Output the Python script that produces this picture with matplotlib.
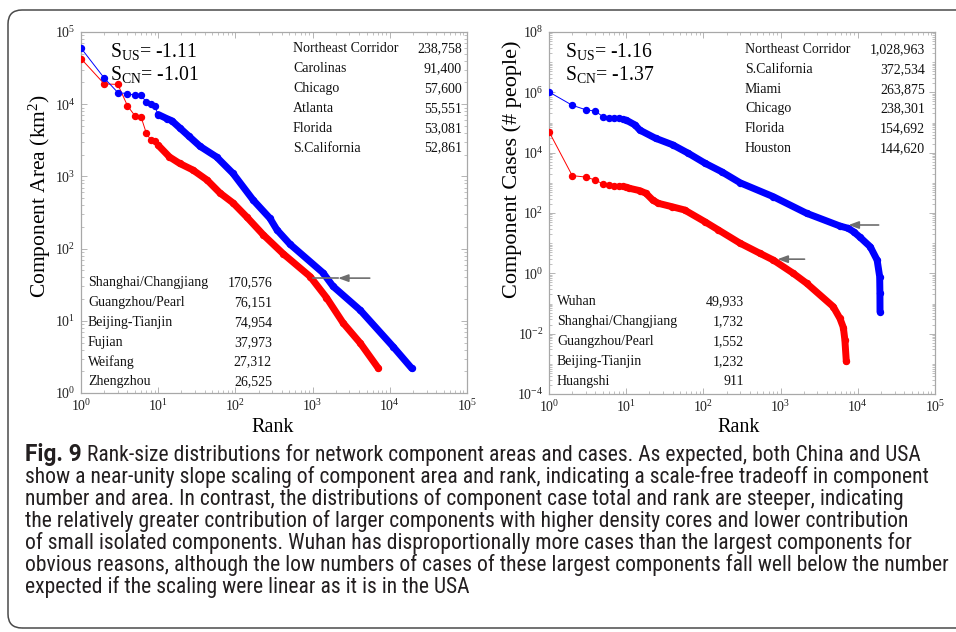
import numpy as np
import matplotlib
matplotlib.use('Agg')
import matplotlib.pyplot as plt
from matplotlib.patches import FancyBboxPatch
from matplotlib.transforms import IdentityTransform
from matplotlib.ticker import LogLocator, NullFormatter, FixedLocator
from matplotlib import font_manager

# ---------------- data ----------------
# Left panel: component area (km^2) vs rank
area_us_rank = [1, 2, 3, 4, 5, 6, 7, 8, 9, 10, 13, 15, 19, 25, 35, 57, 93, 170, 280, 345, 510,
                1370, 1840, 4150, 11000, 19200]
area_us = [60000, 23000, 14500, 14000, 13300, 13300, 10700, 10200, 9300, 7200, 6300, 5900, 4700,
           3600, 2600, 1860, 1100, 470, 263, 182, 115, 46, 30, 14, 4.4, 2.2]
area_cn_rank = [1, 2, 3, 4, 5, 6, 7, 8, 9, 10, 14, 19, 28, 43, 63, 93, 140, 230, 415, 930, 1510,
                2490, 4150, 7100]
area_cn = [42800, 19100, 18800, 9500, 6900, 6650, 4000, 3200, 3100, 2700, 1860, 1510, 1230, 890,
           590, 430, 275, 155, 85, 41, 21, 9.3, 4.9, 2.2]

# Right panel: component cases (# people) vs rank
cases_us_rank = [1, 2, 3, 4, 5, 6, 7, 8, 9, 10, 13, 15, 24, 40, 64, 105, 172, 300, 805, 2170,
                 5870, 7530, 8800, 10600, 14500, 17800, 19200, 19350, 19400]
cases_us = [1028963, 372534, 263875, 238301, 154692, 144620, 138000, 136000, 132000, 120000,
            83000, 56000, 30000, 18200, 9500, 4470, 2340, 1000, 347, 98, 37, 31, 24, 16, 7.6,
            2.75, 0.78, 0.22, 0.054]
cases_cn_rank = [1, 2, 3, 4, 5, 6, 7, 8, 9, 10, 11, 15, 18, 22, 26, 39, 57, 105, 156, 298, 540,
                 805, 1460, 2170, 4800, 5870, 6500, 6800, 7100]
cases_cn = [49933, 1732, 1552, 1232, 911, 830, 810, 810, 780, 720, 660, 550, 450, 270, 210, 162,
            126, 51, 27.5, 10, 4.6, 2.75, 1.0, 0.47, 0.079, 0.032, 0.016, 0.0062, 0.0012]

# Tables of largest components
area_us_names = ["Northeast Corridor", "Carolinas", "Chicago", "Atlanta", "Florida", "S.California"]
area_us_vals = ["238,758", "91,400", "57,600", "55,551", "53,081", "52,861"]
area_cn_names = ["Shanghai/Changjiang", "Guangzhou/Pearl", "Beijing-Tianjin", "Fujian", "Weifang", "Zhengzhou"]
area_cn_vals = ["170,576", "76,151", "74,954", "37,973", "27,312", "26,525"]
cases_us_names = ["Northeast Corridor", "S.California", "Miami", "Chicago", "Florida", "Houston"]
cases_us_vals = ["1,028,963", "372,534", "263,875", "238,301", "154,692", "144,620"]
cases_cn_names = ["Wuhan", "Shanghai/Changjiang", "Guangzhou/Pearl", "Beijing-Tianjin", "Huangshi"]
cases_cn_vals = ["49,933", "1,732", "1,552", "1,232", "911"]

slopes_area = ("-1.11", "-1.01")
slopes_cases = ("-1.16", "-1.37")

# arrows: (x_start, x_tip, x_end_of_line, y) in data units
arrow_area = (10 ** 3.74, 10 ** 3.33, 10 ** 3.0, 39)
arrow_cases_us = (10 ** 4.27, 10 ** 3.88, 10 ** 3.88, 40)
arrow_cases_cn = (10 ** 3.31, 10 ** 2.96, 10 ** 2.96, 2.95)

caption_bold = "Fig. 9"
caption_lines = [
    "Rank-size distributions for network component areas and cases. As expected, both China and USA",
    "show a near-unity slope scaling of component area and rank, indicating a scale-free tradeoff in component",
    "number and area. In contrast, the distributions of component case total and rank are steeper, indicating",
    "the relatively greater contribution of larger components with higher density cores and lower contribution",
    "of small isolated components. Wuhan has disproportionally more cases than the largest components for",
    "obvious reasons, although the low numbers of cases of these largest components fall well below the number",
    "expected if the scaling were linear as it is in the USA",
]
caption_line_ends = [915, 944, 900, 944, 905, 951, 462]   # right ends in the reference (px)

# ---------------- style ----------------
SERIF = 'Liberation Serif'
plt.rcParams['font.family'] = [SERIF, 'DejaVu Serif']
plt.rcParams['mathtext.fontset'] = 'custom'
plt.rcParams['mathtext.rm'] = SERIF
plt.rcParams['mathtext.it'] = SERIF + ':italic'
plt.rcParams['mathtext.bf'] = SERIF + ':bold'
plt.rcParams['axes.unicode_minus'] = False

STRETCH_NUM = {'ultra-condensed': 100, 'extra-condensed': 200, 'condensed': 300,
               'semi-condensed': 400, 'normal': 500, 'semi-expanded': 600, 'expanded': 700,
               'extra-expanded': 800, 'ultra-expanded': 900}
WEIGHT_NUM = {'normal': 400, 'regular': 400, 'book': 400, 'medium': 500, 'bold': 700,
              'semibold': 600, 'demibold': 600}


def _num(v, table, default):
    if isinstance(v, (int, float)):
        return int(v)
    return table.get(str(v).lower(), default)


def pick_caption_font():
    fams = ['liberation sans narrow', 'open sans', 'noto sans', 'roboto', 'lato', 'inter',
            'dejavu sans', 'liberation sans']
    cands = []
    for f in font_manager.fontManager.ttflist:
        low = f.name.lower()
        if any(k in low for k in ('serif', 'mono', 'cjk', 'math', 'display', 'symbol')):
            continue
        if f.style != 'normal':
            continue
        st = _num(f.stretch, STRETCH_NUM, 500)
        squeezed = low.replace(' ', '').replace('-', '')
        if 'narrow' in low:
            st = min(st, 400)
        if 'semicondensed' in squeezed:
            st = 400
        elif 'extracondensed' in squeezed:
            st = 200
        elif 'condensed' in low:
            st = min(st, 300)
        if st not in (300, 400):
            continue
        base = None
        for i, fam in enumerate(fams):
            if low.startswith(fam):
                base = i
                break
        if base is None:
            continue
        if _num(f.weight, WEIGHT_NUM, 400) != 400:
            continue
        cands.append((base, abs(st - 400), f))
    if cands:
        cands.sort(key=lambda c: (c[0], c[1]))
        return font_manager.FontProperties(fname=cands[0][2].fname)
    return font_manager.FontProperties(family='DejaVu Sans')


CAP_FP = pick_caption_font()
CAP_BOLD_FP = font_manager.FontProperties(family=['Roboto', 'Open Sans', 'DejaVu Sans'], weight='bold')

W, H = 956, 632
fig = plt.figure(figsize=(W / 100, H / 100), dpi=100)
fig.patch.set_facecolor('white')


def fx(px):
    return px / W


def fy(py):
    return 1 - py / H


axL = fig.add_axes([fx(81), fy(393), (467 - 81) / W, (393 - 32) / H])
axR = fig.add_axes([fx(549), fy(394), (935 - 549) / W, (394 - 32) / H])

BLUE = '#0000ff'
RED = '#ff0000'
GRAY_SP = '#a8a8a8'


def style(ax, ylim, ymajor):
    ax.set_xscale('log')
    ax.set_yscale('log')
    ax.set_xlim(1, 1e5)
    ax.set_ylim(*ylim)
    ax.xaxis.set_major_locator(FixedLocator([10.0 ** k for k in range(0, 6)]))
    ax.yaxis.set_major_locator(FixedLocator(ymajor))
    ax.xaxis.set_minor_locator(LogLocator(base=10, subs=np.arange(1, 10), numticks=200))
    ax.yaxis.set_minor_locator(LogLocator(base=10, subs=np.arange(1, 10), numticks=200))
    ax.xaxis.set_minor_formatter(NullFormatter())
    ax.yaxis.set_minor_formatter(NullFormatter())
    ax.tick_params(which='both', direction='in', top=True, right=True, colors=GRAY_SP,
                   labelcolor='#222222', labelsize=10)
    ax.tick_params(which='major', length=4.5, width=0.6, pad=4)
    ax.tick_params(which='minor', length=2.2, width=0.5)
    for s in ax.spines.values():
        s.set_color(GRAY_SP)
        s.set_linewidth(0.9)


def draw(ax, ranks, vals, color, band_from):
    r = np.asarray(ranks, float)
    v = np.asarray(vals, float)
    ax.plot(r, v, '-', color=color, lw=0.7, marker='o', ms=4.3, mec=color, mfc=color, zorder=3)
    m = r >= band_from
    ax.plot(r[m], v[m], '-', color=color, lw=5.0, solid_capstyle='round',
            solid_joinstyle='round', zorder=3)


def arrow(ax, spec):
    x0, xtip, xend, y = spec
    ax.annotate('', xy=(xtip, y), xytext=(x0, y),
                arrowprops=dict(arrowstyle='-|>,head_length=0.6,head_width=0.22',
                                color='#6e6e6e', lw=1.2, shrinkA=0, shrinkB=0), zorder=5)
    if xend < xtip:
        ax.plot([xtip, xend], [y, y], color='#6e6e6e', lw=1.2, zorder=5)


style(axL, (1, 1e5), [10.0 ** k for k in range(0, 6)])
style(axR, (1e-4, 1e8), [10.0 ** k for k in range(-4, 9, 2)])

draw(axL, area_cn_rank, area_cn, RED, 10)
draw(axL, area_us_rank, area_us, BLUE, 10)
draw(axR, cases_cn_rank, cases_cn, RED, 10)
draw(axR, cases_us_rank, cases_us, BLUE, 10)

arrow(axL, arrow_area)
arrow(axR, arrow_cases_us)
arrow(axR, arrow_cases_cn)

axL.set_xlabel('Rank', fontsize=14.5)
axL.set_ylabel('Component Area (km$^2$)', fontsize=15.5)
axL.xaxis.set_label_coords(0.497, -0.068)
axL.yaxis.set_label_coords(-0.072, 0.546)
axR.set_xlabel('Rank', fontsize=14.5)
axR.set_ylabel('Component Cases (# people)', fontsize=16)
axR.xaxis.set_label_coords(0.49, -0.066)
axR.yaxis.set_label_coords(-0.071, 0.62)

# slope annotations
for x0, sl in ((110, slopes_area), (565, slopes_cases)):
    fig.text(fx(x0), fy(57), r'S$_{\mathrm{US}}$= ' + sl[0], fontsize=14.2, va='baseline', ha='left')
    fig.text(fx(x0), fy(80), r'S$_{\mathrm{CN}}$= ' + sl[1], fontsize=14.2, va='baseline', ha='left')


def table(names, vals, xname, xval, ybase, step):
    for i, (n, v) in enumerate(zip(names, vals)):
        y = ybase + step * i
        fig.text(fx(xname), fy(y), n, fontsize=10, va='baseline', ha='left', color='#111111')
        fig.text(fx(xval), fy(y), v, fontsize=10, va='baseline', ha='right', color='#111111')


table(area_us_names, area_us_vals, 293, 462, 52.5, 19.8)
table(area_cn_names, area_cn_vals, 88, 272, 286, 19.9)
table(cases_us_names, cases_us_vals, 745, 925, 53.3, 19.7)
table(cases_cn_names, cases_cn_vals, 557, 744, 305, 20.0)

# ---------------- caption ----------------
X0 = 25
fig.canvas.draw()
renderer = fig.canvas.get_renderer()


def text_width(s, fp, size):
    t = fig.text(0, 0, s, fontproperties=fp, fontsize=size)
    w = t.get_window_extent(renderer).width
    t.remove()
    return w


ratios = []
for line, end in zip(caption_lines[1:], caption_line_ends[1:]):
    ratios.append((end - X0) / text_width(line, CAP_FP, 10))
cap_size = 10 * float(np.median(ratios))
worst = max(text_width(l, CAP_FP, cap_size) for l in caption_lines[1:])
if X0 + worst > 952:
    cap_size *= (952 - X0) / worst

bold_size = 10 * (82 - X0) / text_width(caption_bold, CAP_BOLD_FP, 10)

base0 = 461.5
step = 22.0
tb = fig.text(fx(X0), fy(base0), caption_bold, fontproperties=CAP_BOLD_FP, fontsize=bold_size,
              va='baseline', ha='left', color='#231f20')
fig.canvas.draw()
bb = tb.get_window_extent(renderer)
for i, line in enumerate(caption_lines):
    x = (bb.x1 + 5) if i == 0 else X0
    fig.text(fx(x), fy(base0 + step * i), line, fontproperties=CAP_FP, fontsize=cap_size,
             va='baseline', ha='left', color='#231f20')

# rounded border of the figure panel
border = FancyBboxPatch((8, 4), 980, 618, boxstyle='round,pad=0,rounding_size=14',
                        transform=IdentityTransform(), fill=False, edgecolor='#4a4a4a', lw=1.1)
fig.patches.append(border)

fig.savefig('out.png', dpi=100)
